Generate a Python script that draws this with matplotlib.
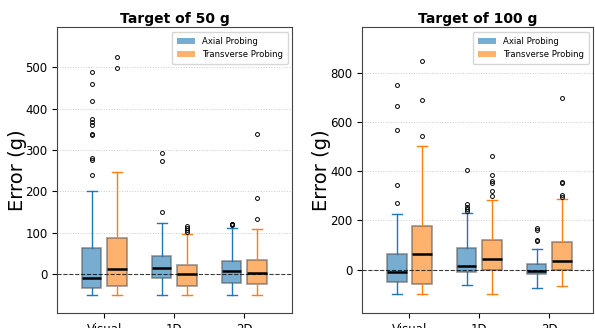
import matplotlib as mpl
mpl.use('agg')
import matplotlib.pyplot as plt
import matplotlib.patches as mpatches

methods = ["Visual", "1D", "2D"]
probes = ["Axial Probing", "Transverse Probing"]

# box stats: (whislo, q1, med, q3, whishi)
axial_50 = [(-50, -34, -10, 63, 201), (-50, -9, 15, 44, 124), (-50, -21, 7, 32, 111)]
trans_50 = [(-50, -29, 13, 88, 247), (-50, -28, 0, 23, 98), (-50, -24, 3, 35, 108)]
axial_50_fliers = [[240, 276, 281, 337, 340, 360, 367, 374, 418, 461, 490],
                   [150, 273, 293],
                   [118, 120, 122]]
trans_50_fliers = [[499, 524],
                   [102, 107, 112, 116],
                   [133, 184, 338]]

axial_100 = [(-100, -50, -11, 62, 228), (-61, -8, 14, 88, 230), (-73, -19, -5, 24, 85)]
trans_100 = [(-98, -58, 65, 178, 503), (-99, -3, 43, 119, 285), (-66, -3, 34, 114, 287)]
axial_100_fliers = [[270, 346, 568, 664, 751],
                    [237, 245, 253, 268, 404],
                    [118, 122, 160, 170]]
trans_100_fliers = [[545, 690, 849],
                    [300, 320, 354, 362, 385, 464],
                    [295, 303, 352, 356, 698]]

colors = ["#1f77b4", "#ff7f0e"]


def make_stats(boxes, fliers):
    out = []
    for (lo, q1, med, q3, hi), fl in zip(boxes, fliers):
        out.append(dict(whislo=lo, q1=q1, med=med, q3=q3, whishi=hi, fliers=fl))
    return out


def draw_panel(ax, axial, axial_fl, trans, trans_fl, title, yticks, ylim, xlim):
    for k, (boxes, fl) in enumerate([(axial, axial_fl), (trans, trans_fl)]):
        pos = [i + (-0.18 if k == 0 else 0.18) for i in range(len(methods))]
        c = colors[k]
        ax.bxp(make_stats(boxes, fl), positions=pos, widths=0.28,
               patch_artist=True, showfliers=True,
               boxprops=dict(facecolor=c, alpha=0.6, edgecolor="#555555", linewidth=1.2),
               whiskerprops=dict(color=c, linewidth=1),
               capprops=dict(color=c, linewidth=1),
               medianprops=dict(color="black", linewidth=1.8),
               flierprops=dict(marker="o", markersize=2.8, markerfacecolor="none",
                               markeredgecolor="black", markeredgewidth=0.7))
    ax.axhline(0, color="black", linestyle="--", linewidth=0.8, alpha=0.75)
    ax.set_xticks(range(len(methods)))
    ax.set_xticklabels(methods, fontsize=8.5)
    ax.set_yticks(yticks)
    ax.tick_params(axis="y", labelsize=8.5)
    ax.set_ylim(ylim)
    ax.set_xlim(xlim)
    ax.yaxis.grid(True, linestyle=":", color="#cccccc", linewidth=0.7)
    ax.set_axisbelow(True)
    ax.set_title(title, fontsize=10, fontweight="bold", pad=3)
    ax.set_ylabel("Error (g)", fontsize=14, labelpad=-1)
    for s in ax.spines.values():
        s.set_color("#444444")
    handles = [mpatches.Patch(facecolor=colors[i], alpha=0.6, label=probes[i])
               for i in range(2)]
    ax.legend(handles=handles, loc="upper right", fontsize=6.1,
              handlelength=2.2, borderpad=0.6)


fig = plt.figure(figsize=(5.95, 3.28), dpi=100)
ax1 = fig.add_axes([0.0963, 0.0448, 0.395, 0.872])
ax2 = fig.add_axes([0.6084, 0.0448, 0.3888, 0.872])

draw_panel(ax1, axial_50, axial_50_fliers, trans_50, trans_50_fliers,
           "Target of 50 g", [0, 100, 200, 300, 400, 500], (-95, 597), (-0.671, 2.686))
draw_panel(ax2, axial_100, axial_100_fliers, trans_100, trans_100_fliers,
           "Target of 100 g", [0, 200, 400, 600, 800], (-178, 986), (-0.676, 2.63))

fig.savefig("out.png", dpi=100)
